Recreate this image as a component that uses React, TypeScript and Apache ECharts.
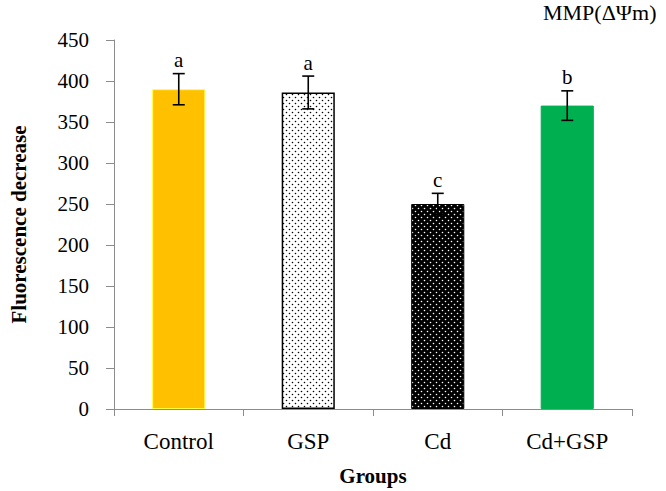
import React, { useEffect, useRef } from "react";
import * as echarts from "echarts";

const categories = ["Control", "GSP", "Cd", "Cd+GSP"];
const means = [390, 386, 250, 370];
const errors = [19, 20, 13, 18];
const letters = ["a", "a", "c", "b"];
const yTicks = { min: 0, max: 450, interval: 50 };

function dotPattern(bg: string, dot: string, r: number): HTMLCanvasElement {
  const c = document.createElement("canvas");
  c.width = 6;
  c.height = 6;
  const ctx = c.getContext("2d")!;
  ctx.fillStyle = bg;
  ctx.fillRect(0, 0, 6, 6);
  ctx.fillStyle = dot;
  ctx.beginPath();
  ctx.arc(1.5, 1.5, r, 0, Math.PI * 2);
  ctx.closePath();
  ctx.moveTo(4.5 + r, 4.5);
  ctx.arc(4.5, 4.5, r, 0, Math.PI * 2);
  ctx.fill();
  return c;
}

export default function App() {
  const ref = useRef<HTMLDivElement>(null);
  useEffect(() => {
    const chart = echarts.init(ref.current!, null, { renderer: "svg" });
    const serif = "Liberation Serif";
    const gspPat = { image: dotPattern("#ffffff", "#000000", 0.8), repeat: "repeat" };
    const cdPat = { image: dotPattern("#000000", "#ffffff", 0.8), repeat: "repeat" };
    const styles = [
      { color: "#FFC000", borderColor: "#FFFF40", borderWidth: 1 },
      { color: gspPat, borderColor: "#000000", borderWidth: 1.5 },
      { color: cdPat, borderColor: "#000000", borderWidth: 1 },
      { color: "#00B050", borderColor: "#00B050", borderWidth: 1 },
    ];
    chart.setOption({
      animation: false,
      textStyle: { fontFamily: serif },
      graphic: [
        {
          type: "text",
          left: 543,
          top: 1,
          style: { text: "MMP(ΔΨm)", fontFamily: serif, fontSize: 22, fill: "#000" },
        },
      ],
      grid: { left: 109, right: 34, top: 40, bottom: 80 },
      xAxis: {
        type: "category",
        data: categories,
        name: "Groups",
        nameLocation: "middle",
        nameGap: 56,
        nameTextStyle: { fontFamily: serif, fontSize: 21, fontWeight: "bold", color: "#000" },
        axisLine: { lineStyle: { color: "#8c8c8c", width: 1 } },
        axisTick: { show: true, length: 7, lineStyle: { color: "#8c8c8c" } },
        axisLabel: { fontFamily: serif, fontSize: 23, color: "#000", margin: 21 },
      },
      yAxis: {
        type: "value",
        min: yTicks.min,
        max: yTicks.max,
        interval: yTicks.interval,
        name: "Fluorescence decrease",
        nameLocation: "middle",
        nameGap: 85,
        nameTextStyle: { fontFamily: serif, fontSize: 21, fontWeight: "bold", color: "#000" },
        axisLine: { show: true, lineStyle: { color: "#8c8c8c", width: 1 } },
        axisTick: { show: true, length: 8, lineStyle: { color: "#8c8c8c" } },
        axisLabel: { fontFamily: serif, fontSize: 21, color: "#000", margin: 25 },
        splitLine: { show: false },
      },
      series: [
        {
          type: "bar",
          barWidth: "41%",
          data: means.map((v, i) => ({ value: v, itemStyle: styles[i] })),
        },
        {
          type: "custom",
          data: means.map((v, i) => [i, v, errors[i]]),
          renderItem: (params: any, api: any) => {
            const x = api.value(0);
            const m = api.value(1);
            const e = api.value(2);
            const letter = letters[params.dataIndex];
            const top = api.coord([x, m + e]);
            const bot = api.coord([x, m - e]);
            const cap = 6;
            const ls = { stroke: "#000", lineWidth: 1.6 };
            return {
              type: "group",
              children: [
                { type: "line", shape: { x1: top[0], y1: top[1], x2: bot[0], y2: bot[1] }, style: ls },
                { type: "line", shape: { x1: top[0] - cap, y1: top[1], x2: top[0] + cap, y2: top[1] }, style: ls },
                { type: "line", shape: { x1: bot[0] - cap, y1: bot[1], x2: bot[0] + cap, y2: bot[1] }, style: ls },
                {
                  type: "text",
                  x: top[0],
                  y: top[1] - 3,
                  style: {
                    text: letter,
                    fontFamily: serif,
                    fontSize: 21,
                    fill: "#000",
                    align: "center",
                    verticalAlign: "bottom",
                  },
                },
              ],
            };
          },
          z: 10,
        },
      ],
    });
    return () => chart.dispose();
  }, []);
  return (
    <div
      ref={ref}
      style={{ position: "fixed", left: 0, top: 0, width: 666, height: 491, background: "#fff" }}
    />
  );
}
